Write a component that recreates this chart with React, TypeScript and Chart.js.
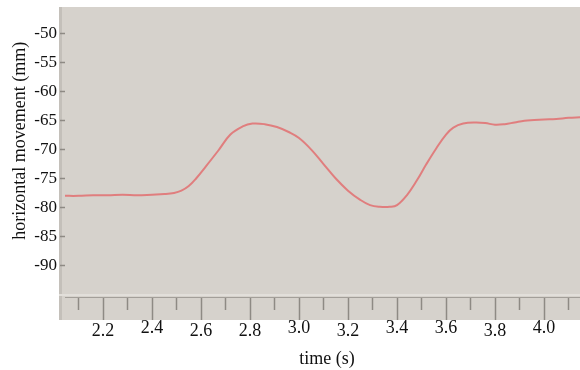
import React, { useEffect, useRef } from "react";
import { Chart, registerables } from "chart.js";

Chart.register(...registerables);

// Horizontal displacement trace over time
const timeS = [
  2.04, 2.1, 2.16, 2.22, 2.28, 2.34, 2.4, 2.45, 2.49, 2.52, 2.55, 2.58, 2.62, 2.67, 2.72, 2.77,
  2.81, 2.86, 2.91, 2.96, 3.0, 3.05, 3.1, 3.15, 3.2, 3.25, 3.29, 3.33, 3.37, 3.4, 3.44, 3.48,
  3.52, 3.56, 3.6, 3.63, 3.67, 3.72, 3.76, 3.8, 3.84, 3.88, 3.92, 3.96, 4.0, 4.05, 4.1, 4.15,
];
const movementMm = [
  -78.0, -78.0, -77.9, -77.9, -77.8, -77.9, -77.8, -77.7, -77.5, -77.1, -76.3, -75.0, -72.9, -70.2, -67.4, -66.0,
  -65.5, -65.6, -66.1, -67.0, -68.0, -70.0, -72.5, -75.0, -77.1, -78.7, -79.6, -79.9, -79.9, -79.6, -77.9, -75.4,
  -72.5, -69.8, -67.4, -66.2, -65.5, -65.3, -65.4, -65.7, -65.6, -65.3, -65.0, -64.9, -64.8, -64.7, -64.5, -64.4,
];

// Ruler ticks along the time axis (labelled every 0.2 s, minor marks between)
const xTickValues = [2.1, 2.2, 2.3, 2.4, 2.5, 2.6, 2.7, 2.8, 2.9, 3.0, 3.1, 3.2, 3.3, 3.4, 3.5, 3.6, 3.7, 3.8, 3.9, 4.0, 4.1];
const yTickValues = [-90, -85, -80, -75, -70, -65, -60, -55, -50];

// labels printed slightly higher on the ruler
const raisedLabels = ["2.4", "3.0", "3.4", "3.6", "4.0"];

const SERIF = "'Liberation Serif', 'DejaVu Serif', serif";
const PANEL = "#d6d2cc";

const isMajor = (v: number) => Math.round(v * 10) % 2 === 0;

const panelPlugin = {
  id: "panel",
  beforeDraw(chart: any) {
    const { ctx, chartArea } = chart;
    const xs = chart.scales.x;
    const left = chartArea.left - 6;
    const bottom = xs.top + 23;
    ctx.save();
    ctx.fillStyle = PANEL;
    ctx.fillRect(left, chartArea.top, chartArea.right - left, bottom - chartArea.top);
    // darker edge down the left side of the panel
    ctx.fillStyle = "#c4c0ba";
    ctx.fillRect(left, chartArea.top, 3, bottom - chartArea.top);
    // light strip just above the ruler
    ctx.fillStyle = "#e2dfda";
    ctx.fillRect(left, chartArea.bottom - 3, chartArea.right - left, 2);
    ctx.restore();
  },
};

const noPadding = (s: any) => {
  s.paddingTop = 0;
  s.paddingBottom = 0;
  s.paddingLeft = 0;
  s.paddingRight = 0;
};

export default function App() {
  const ref = useRef<HTMLCanvasElement | null>(null);

  useEffect(() => {
    if (!ref.current) return;
    const points = timeS.map((t, i) => ({ x: t, y: movementMm[i] }));
    const chart = new Chart(ref.current, {
      type: "line",
      data: {
        datasets: [
          {
            data: points,
            borderColor: "#e07e7e",
            borderWidth: 2,
            pointRadius: 0,
            tension: 0.4,
            fill: false,
          },
        ],
      },
      options: {
        responsive: false,
        animation: false,
        layout: { padding: { top: 7, left: 0, right: 0, bottom: 0 } },
        plugins: { legend: { display: false }, tooltip: { enabled: false } },
        scales: {
          x: {
            type: "linear",
            min: 2.0449,
            max: 4.1469,
            afterBuildTicks: (s: any) => {
              s.ticks = xTickValues.map((v) => ({ value: v }));
            },
            afterFit: (s: any) => {
              s.height = 73;
              noPadding(s);
            },
            border: { display: true, color: "#a39f99", width: 1 },
            grid: {
              drawOnChartArea: false,
              drawTicks: true,
              tickLength: 23,
              tickWidth: 1.5,
              tickColor: "#8e8a84",
              tickBorderDash: (c: any) => (c.tick && isMajor(c.tick.value) ? [] : [12, 40]),
            },
            ticks: {
              autoSkip: false,
              maxRotation: 0,
              padding: 0,
              color: "#111",
              font: (c: any) => {
                const lbl = c.tick ? c.tick.value.toFixed(1) : "";
                const raised = raisedLabels.includes(lbl);
                return { family: SERIF, size: 18, lineHeight: raised ? 16 / 18 : 22 / 18 };
              },
              callback: (v: any) => (isMajor(Number(v)) ? Number(v).toFixed(1) : ""),
            },
            title: {
              display: true,
              text: "  time (s)",
              color: "#111",
              font: { family: SERIF, size: 18 },
              padding: { top: 0, bottom: 0 },
            },
          },
          y: {
            type: "linear",
            min: -95.5,
            max: -45.33,
            afterBuildTicks: (s: any) => {
              s.ticks = yTickValues.map((v) => ({ value: v }));
            },
            afterFit: (s: any) => {
              s.width = 65;
              noPadding(s);
            },
            border: { display: false },
            grid: {
              drawOnChartArea: false,
              drawTicks: true,
              tickLength: 5,
              tickWidth: 1.5,
              tickColor: "#8e8a84",
            },
            ticks: {
              autoSkip: false,
              padding: 3,
              color: "#111",
              font: { family: SERIF, size: 17 },
              callback: (v: any) => String(v),
            },
            title: {
              display: true,
              text: "     horizontal movement (mm)",
              color: "#111",
              font: { family: SERIF, size: 18 },
              padding: { top: 9, bottom: 0 },
            },
          },
        },
      },
      plugins: [panelPlugin],
    });
    return () => chart.destroy();
  }, []);

  return (
    <div style={{ position: "fixed", left: 0, top: 0, width: 580, height: 370, background: "#fff" }}>
      <canvas ref={ref} width={580} height={370} style={{ display: "block" }} />
    </div>
  );
}
